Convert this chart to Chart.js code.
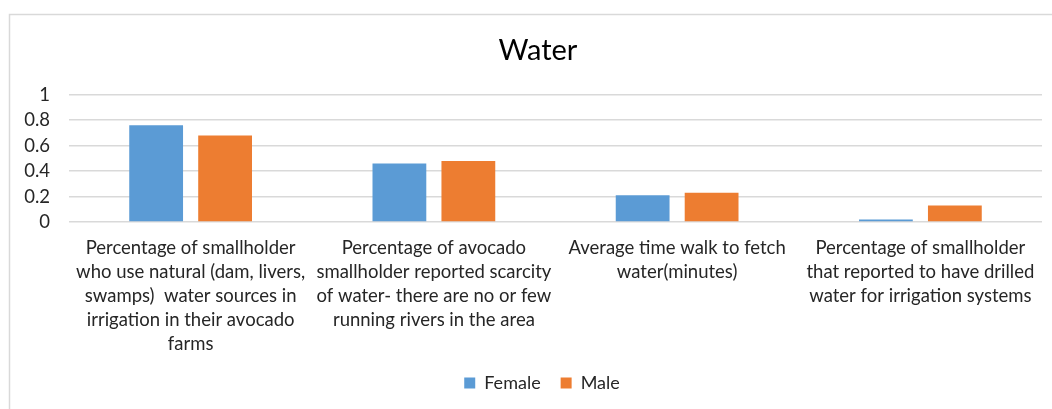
<!DOCTYPE html>
<html>
<head>
<meta charset="utf-8">
<script src="https://cdn.jsdelivr.net/npm/chart.js@4.4.1/dist/chart.umd.min.js"></script>
<style>
  body { margin: 0; background: #fff; }
  #wrap { position: relative; width: 1052px; height: 409px; }
</style>
</head>
<body>
<div id="wrap"><canvas id="myChart" width="1052" height="409"></canvas></div>
<script>
const categories = [
    ['Percentage of smallholder', 'who use natural (dam, livers,', 'swamps)  water sources in', 'irrigation in their avocado', 'farms'],
    ['Percentage of avocado', 'smallholder reported scarcity', 'of water- there are no or few', 'running rivers in the area'],
    ['Average time walk to fetch', 'water(minutes)'],
    ['Percentage of smallholder', 'that reported to have drilled', 'water for irrigation systems']
];
const female = [0.76, 0.46, 0.21, 0.02];
const male = [0.68, 0.48, 0.23, 0.13];
const yTicks = [0, 0.2, 0.4, 0.6, 0.8, 1];

const textColor = '#262626';
const gridColor = '#d9d9d9';

// light grey frame like the Excel chart area (it runs off the right and bottom edges)
const framePlugin = {
    id: 'frame',
    afterLayout(chart) {
        // the original chart is wider than the crop, so title and legend sit right of centre
        chart.titleBlock.left += 17;
        chart.titleBlock.right += 17;
        chart.legend.left += 21;
        chart.legend.right += 21;
    },
    beforeDraw(chart) {
        const ctx = chart.ctx;
        ctx.save();
        ctx.fillStyle = '#fff';
        ctx.fillRect(0, 0, chart.width, chart.height);
        ctx.strokeStyle = gridColor;
        ctx.lineWidth = 1.5;
        ctx.strokeRect(9.5, 14.5, 1100, 500);
        ctx.restore();
    }
};

const config = {
    type: 'bar',
    data: {
        labels: categories,
        datasets: [{
            label: 'Female',
            data: female,
            backgroundColor: '#5b9bd5',
            categoryPercentage: 0.567,
            barPercentage: 0.78
        }, {
            label: 'Male',
            data: male,
            backgroundColor: '#ed7d31',
            categoryPercentage: 0.567,
            barPercentage: 0.78
        }]
    },
    options: {
        responsive: false,
        animation: false,
        layout: {
            padding: { top: 0, right: 10, bottom: 7, left: 0 }
        },
        scales: {
            x: {
                grid: { display: false },
                border: { display: false },
                ticks: {
                    color: textColor,
                    font: { family: 'Lato', size: 18.5, lineHeight: 24 / 18.5 },
                    padding: 6,
                    autoSkip: false,
                    minRotation: 0,
                    maxRotation: 0
                },
                afterFit(scale) { scale.height = 132; }
            },
            y: {
                min: 0,
                max: 1,
                afterBuildTicks(scale) {
                    scale.ticks = yTicks.map(v => ({ value: v }));
                },
                grid: { color: gridColor, lineWidth: 1.5, drawTicks: false },
                border: { display: false },
                ticks: {
                    color: textColor,
                    font: { family: 'Lato', size: 18.5 },
                    padding: 19,
                    callback: v => String(v)
                },
                afterFit(scale) { scale.width = 69; }
            }
        },
        plugins: {
            title: {
                display: true,
                text: 'Water',
                color: '#000',
                font: { family: 'Lato', size: 29, weight: 'normal', lineHeight: 1.2 },
                padding: { top: 33, bottom: 27 }
            },
            legend: {
                position: 'bottom',
                labels: {
                    color: textColor,
                    font: { family: 'Lato', size: 18 },
                    boxWidth: 11,
                    boxHeight: 11,
                    padding: 20
                }
            },
            tooltip: { enabled: false }
        }
    },
    plugins: [framePlugin]
};

const myChart = new Chart(document.getElementById('myChart'), config);
</script>
</body>
</html>
